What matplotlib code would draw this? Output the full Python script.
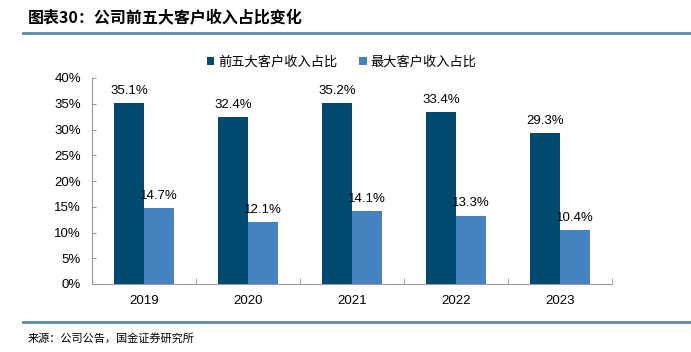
import matplotlib.pyplot as plt
import numpy as np

plt.rcParams['font.family'] = ['Noto Sans CJK SC', 'DejaVu Sans']

years = ['2019', '2020', '2021', '2022', '2023']
top5 = [35.1, 32.4, 35.2, 33.4, 29.3]
top1 = [14.7, 12.1, 14.1, 13.3, 10.4]
names = ['前五大客户收入占比', '最大客户收入占比']

dark = '#004a6f'
light = '#4582c0'
num_font = ['Liberation Sans', 'DejaVu Sans']

fig = plt.figure(figsize=(6.91, 3.52), dpi=100)
ax = fig.add_axes([92 / 691, 1 - 284 / 352, 520 / 691, 206 / 352])

x = np.arange(len(years))
w = 0.29
b1 = ax.bar(x - w / 2, top5, w, color=dark, label=names[0])
b2 = ax.bar(x + w / 2, top1, w, color=light, label=names[1])

for bars, vals in ((b1, top5), (b2, top1)):
    for r, v in zip(bars, vals):
        ax.text(r.get_x() + r.get_width() / 2, v + 1.2, '%.1f%%' % v,
                ha='center', va='bottom', fontsize=9.5, family=num_font)

ax.set_xlim(-0.5, 4.5)
ax.set_ylim(0, 40)
ax.set_yticks(range(0, 41, 5))
ax.set_yticklabels(['%d%%' % t for t in range(0, 41, 5)], fontsize=9.5, family=num_font)
ax.set_xticks(x)
ax.set_xticklabels(years, fontsize=9.5, family=num_font)
ax.set_xticks(np.arange(-0.5, 5, 1), minor=True)
ax.tick_params(axis='x', which='major', length=0, pad=8)
ax.tick_params(axis='x', which='minor', length=4, color='#999999', direction='in')
ax.tick_params(axis='y', length=3, color='#999999', direction='in', pad=8)
for s in ('top', 'right'):
    ax.spines[s].set_visible(False)
for s in ('left', 'bottom'):
    ax.spines[s].set_color('#999999')

ax.legend(loc='center', bbox_to_anchor=(0.48, 1 + 16 / 206), ncol=2, frameon=False,
          fontsize=9.5, handlelength=0.6, handleheight=0.6, handletextpad=0.3,
          columnspacing=1.6)

fig.text(28 / 691, 1 - 18 / 352, '图表30：公司前五大客户收入占比变化', fontsize=11.5,
         fontweight='bold', style='italic', va='center', ha='left')
fig.add_artist(plt.Line2D([23 / 691, 1], [1 - 33 / 352] * 2, color='#5b8aa6', lw=2))
fig.add_artist(plt.Line2D([23 / 691, 1], [1 - 322 / 352] * 2, color='#5b8aa6', lw=2))
fig.text(28 / 691, 1 - 338 / 352, '来源：公司公告，国金证券研究所', fontsize=8,
         va='center', ha='left')

fig.savefig('out.png', dpi=100)
